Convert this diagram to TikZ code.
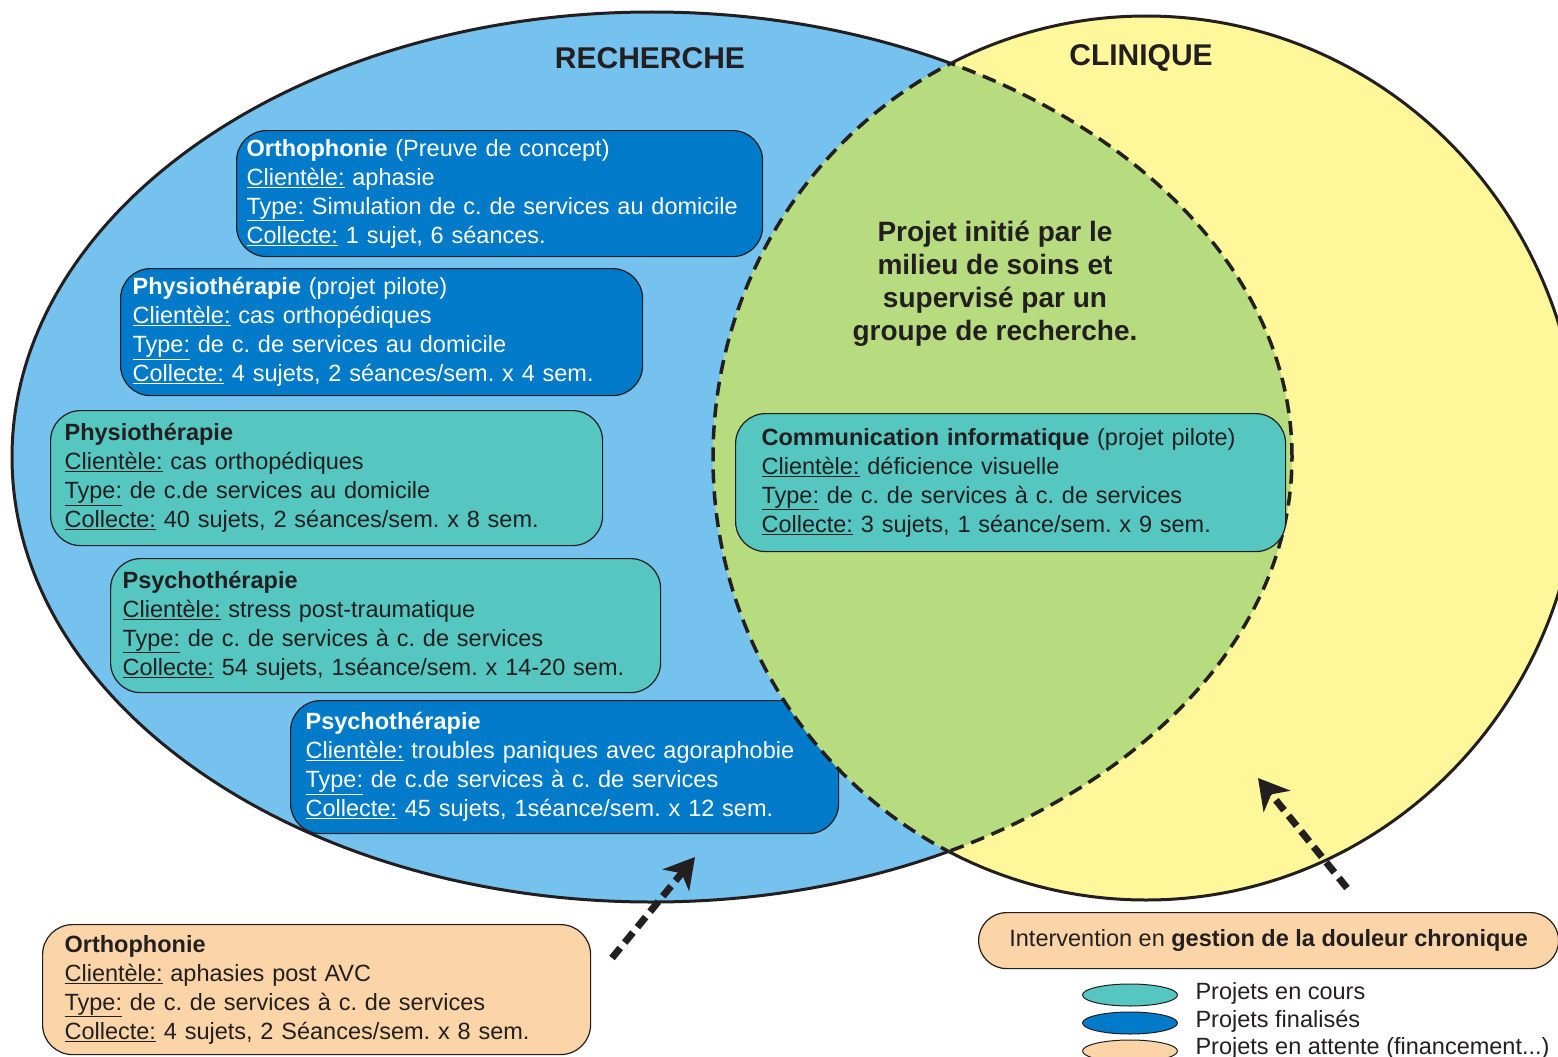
\documentclass[tikz,border=0pt]{standalone}
\usepackage{fontspec}
\setmainfont{Liberation Sans}
\usepackage{tikz}
\usetikzlibrary{arrows.meta, shapes.geometric}
\tikzset{>={Stealth[length=30pt,width=34pt,inset=9pt]}}
\frenchspacing

\definecolor{bleuclair}{RGB}{117,194,238}
\definecolor{jaune}{RGB}{255,247,153}
\definecolor{vert}{RGB}{183,220,128}
\definecolor{bleufonce}{RGB}{0,122,201}
\definecolor{turquoise}{RGB}{85,198,192}
\definecolor{peche}{RGB}{251,212,168}
\definecolor{encre}{RGB}{35,31,32}

\begin{document}
\begin{tikzpicture}[x=1pt, y=-1pt,
  projet/.style={rectangle, rounded corners=30pt, draw=encre, line width=1.2pt, anchor=north west, align=left, inner ysep=0pt, font=\fontsize{23.5}{29}\selectfont},
  finalise/.style={projet, fill=bleufonce, text=white},
  encours/.style={projet, fill=turquoise, text=encre},
  attente/.style={projet, fill=peche, text=encre},
  pastille/.style={ellipse, draw=encre, line width=1pt, minimum width=95pt, minimum height=22pt, inner sep=0pt},
  legende/.style={anchor=west, text=encre, font=\fontsize{23.5}{27}\selectfont},
  pointille/.style={line width=3.5pt, dash pattern=on 14pt off 8pt, draw=encre},
  contour/.style={line width=3pt, draw=encre},
  fleche/.style={->, line width=7pt, dash pattern=on 13pt off 7pt, draw=encre}]
\useasboundingbox (0,0) rectangle (1558,1057);

% les deux ensembles
\fill[bleuclair] (652,457) ellipse [x radius=640pt, y radius=445pt];
\fill[jaune] (1146,458) ellipse [x radius=433pt, y radius=442pt];

\node (psychoB) at (290,700)[finalise, inner xsep=15pt, text width=518pt, minimum height=133pt]
  {\textbf{Psychothérapie}\\
   \underline{Clientèle:} troubles paniques avec agoraphobie\\
   \underline{Type:} de c.de services à c. de services\\
   \underline{Collecte:} 45 sujets, 1séance/sem. x 12 sem.};

% intersection
\begin{scope}
  \clip (652,457) ellipse [x radius=640pt, y radius=445pt];
  \fill[vert] (1146,458) ellipse [x radius=433pt, y radius=442pt];
  \draw[pointille] (1146,458) ellipse [x radius=433pt, y radius=442pt];
\end{scope}
\begin{scope}
  \clip (1146,458) ellipse [x radius=433pt, y radius=442pt];
  \draw[pointille] (652,457) ellipse [x radius=640pt, y radius=445pt];
\end{scope}
\begin{scope}[even odd rule]
  \clip (-20,-20) rectangle (1600,1100) (1146,458) ellipse [x radius=433pt, y radius=442pt];
  \draw[contour] (652,457) ellipse [x radius=640pt, y radius=445pt];
\end{scope}
\begin{scope}[even odd rule]
  \clip (-20,-20) rectangle (1600,1100) (652,457) ellipse [x radius=640pt, y radius=445pt];
  \draw[contour] (1146,458) ellipse [x radius=433pt, y radius=442pt];
\end{scope}

\node (recherche) at (650,58)[text=encre, font=\bfseries\fontsize{30}{36}\selectfont] {RECHERCHE};
\node (clinique) at (1141,58)[text=encre, font=\bfseries\fontsize{30}{36}\selectfont] {CLINIQUE};
\node (initie) at (995,284)[align=center, text=encre, font=\bfseries\fontsize{28}{33}\selectfont]
  {Projet initié par le\\ milieu de soins et\\ supervisé par un\\ groupe de recherche.};

\node (ortho) at (236,130)[finalise, inner xsep=10pt, text width=506pt, minimum height=126pt]
  {\textbf{Orthophonie} (Preuve de concept)\\
   \underline{Clientèle:} aphasie\\
   \underline{Type:} Simulation de c. de services au domicile\\
   \underline{Collecte:} 1 sujet, 6 séances.};
\node (physioA) at (120,268)[finalise, inner xsep=12pt, text width=498pt, minimum height=127pt]
  {\textbf{Physiothérapie} (projet pilote)\\
   \underline{Clientèle:} cas orthopédiques\\
   \underline{Type:} de c. de services au domicile\\
   \underline{Collecte:} 4 sujets, 2 séances/sem. x 4 sem.};
\node (physioB) at (50,410)[encours, inner xsep=14pt, text width=524pt, minimum height=135pt]
  {\textbf{Physiothérapie}\\
   \underline{Clientèle:} cas orthopédiques\\
   \underline{Type:} de c.de services au domicile\\
   \underline{Collecte:} 40 sujets, 2 séances/sem. x 8 sem.};
\node (psychoA) at (110,558)[encours, inner xsep=12pt, text width=526pt, minimum height=134pt]
  {\textbf{Psychothérapie}\\
   \underline{Clientèle:} stress post-traumatique\\
   \underline{Type:} de c. de services à c. de services\\
   \underline{Collecte:} 54 sujets, 1séance/sem. x 14-20 sem.};
\node (informatique) at (735,413)[encours, inner xsep=26pt, text width=498pt, minimum height=138pt]
  {\textbf{Communication informatique} (projet pilote)\\
   \underline{Clientèle:} déficience visuelle\\
   \underline{Type:} de c. de services à c. de services\\
   \underline{Collecte:} 3 sujets, 1 séance/sem. x 9 sem.};
\node (orthoB) at (42,924)[attente, inner xsep=22pt, text width=504pt, minimum height=130pt]
  {\textbf{Orthophonie}\\
   \underline{Clientèle:} aphasies post AVC\\
   \underline{Type:} de c. de services à c. de services\\
   \underline{Collecte:} 4 sujets, 2 Séances/sem. x 8 sem.};
\node (douleur) at (978,912)[attente, align=center, rounded corners=28pt, minimum width=580pt, minimum height=56pt]
  {Intervention en \textbf{gestion de la douleur chronique}};

% legende
\node (lcours) at (1130,995)[pastille, fill=turquoise] {};
\node (lfinal) at (1130,1023)[pastille, fill=bleufonce] {};
\node (lattente) at (1130,1051)[pastille, fill=peche] {};
\node (tcours) at (1192,993)[legende] {Projets en cours};
\node (tfinal) at (1192,1021)[legende] {Projets finalisés};
\node (tattente) at (1192,1048)[legende] {Projets en attente (financement...)};

% fleches
\coordinate (d1) at (612,958);
\coordinate (f1) at (695,857);
\coordinate (d2) at (1347,888);
\coordinate (f2) at (1258,778);
\draw[fleche] (d1) -- (f1);
\draw[fleche] (d2) -- (f2);
\end{tikzpicture}
\end{document}
